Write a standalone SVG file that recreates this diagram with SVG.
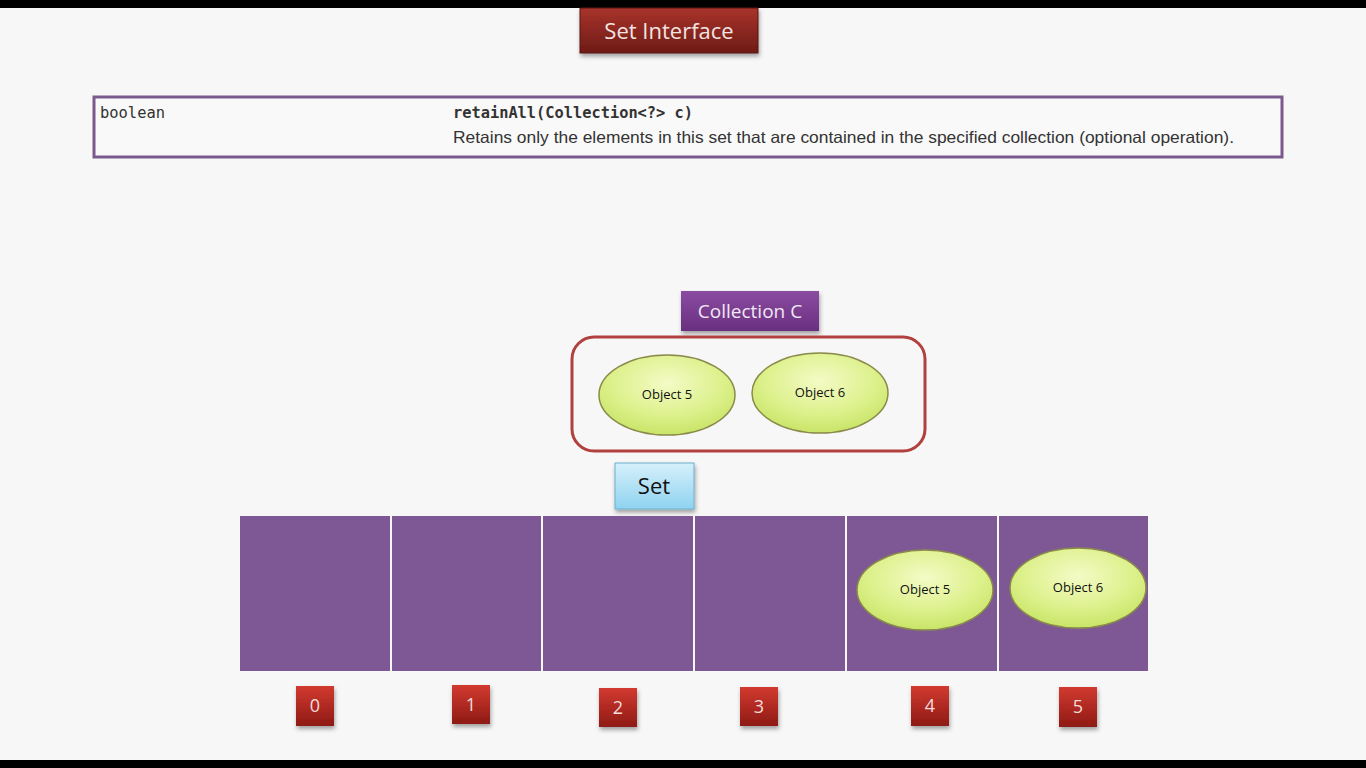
<svg xmlns="http://www.w3.org/2000/svg" width="1366" height="768" viewBox="0 0 1366 768">
<defs>
<linearGradient id="red" x1="0" y1="0" x2="0" y2="1"><stop offset="0" stop-color="#a8332b"/><stop offset="1" stop-color="#6e1c16"/></linearGradient>
<linearGradient id="idx" x1="0" y1="0" x2="0" y2="1"><stop offset="0" stop-color="#d23a30"/><stop offset="1" stop-color="#8e1a14"/></linearGradient>
<linearGradient id="purp" x1="0" y1="0" x2="0" y2="1"><stop offset="0" stop-color="#8a4ca0"/><stop offset="1" stop-color="#6a2f80"/></linearGradient>
<linearGradient id="blue" x1="0" y1="0" x2="0" y2="1"><stop offset="0" stop-color="#d6f0fb"/><stop offset="1" stop-color="#8fd3f0"/></linearGradient>
<radialGradient id="green" cx="0.5" cy="0.35" r="0.7"><stop offset="0" stop-color="#f4fbc6"/><stop offset="0.6" stop-color="#dcf08a"/><stop offset="1" stop-color="#c4e260"/></radialGradient>
<filter id="sh" x="-20%" y="-20%" width="140%" height="150%"><feDropShadow dx="1" dy="3" stdDeviation="2" flood-color="#000" flood-opacity="0.35"/></filter>
</defs>
<style>
.cell{fill:#7e5894}
.obj{fill:url(#green);stroke:#8a8a4a;stroke-width:1.5}
.ot{font-family:"Open Sans","DejaVu Sans",sans-serif;font-size:13px;fill:#111;text-anchor:middle}
.ix{fill:url(#idx);filter:url(#sh)}
.it{font-family:"Open Sans","DejaVu Sans",sans-serif;font-size:18px;fill:#f4dcdc;text-anchor:middle}
.mono{font-family:"DejaVu Sans Mono","Liberation Mono",monospace;font-size:15px;fill:#333}
</style>
<rect width="1366" height="768" fill="#f8f7f7"/>
<rect width="1366" height="8" fill="#000"/>
<rect y="760" width="1366" height="8" fill="#000"/>

<g id="title">
<rect x="580" y="8" width="178" height="45" fill="url(#red)" stroke="#5a1410" stroke-width="1" filter="url(#sh)"/>
<text x="669" y="39" font-family="Open Sans, DejaVu Sans, sans-serif" font-size="22" fill="#f3e4e0" text-anchor="middle">Set Interface</text>
</g>

<g id="doc">
<rect x="94" y="97" width="1188" height="60" fill="#f9f9f9" stroke="#7a5a8e" stroke-width="3"/>
<text x="100" y="118" class="mono" textLength="65" lengthAdjust="spacingAndGlyphs">boolean</text>
<text x="453" y="118" class="mono" font-weight="bold" fill="#3a4a5a" textLength="240" lengthAdjust="spacingAndGlyphs">retainAll(Collection&lt;?&gt; c)</text>
<text x="453" y="143" font-family="Liberation Sans, Arial, sans-serif" font-size="16.5" fill="#333" textLength="781" lengthAdjust="spacingAndGlyphs">Retains only the elements in this set that are contained in the specified collection (optional operation).</text>
</g>

<g id="collection-label">
<rect x="681" y="291" width="138" height="40" fill="url(#purp)" filter="url(#sh)"/>
<text x="750" y="318" font-family="Open Sans, DejaVu Sans, sans-serif" font-size="19" fill="#f0e8f4" text-anchor="middle">Collection C</text>
</g>

<g id="collection">
<rect x="572" y="337" width="353" height="114" rx="22" fill="none" stroke="#b0413e" stroke-width="3"/>
</g>
<g id="c-obj5">
<ellipse cx="667" cy="395" rx="68" ry="40" class="obj"/>
<text x="667" y="399" class="ot">Object 5</text>
</g>
<g id="c-obj6">
<ellipse cx="820" cy="393" rx="68" ry="40" class="obj"/>
<text x="820" y="397" class="ot">Object 6</text>
</g>

<g id="set-label">
<rect x="615" y="463" width="79" height="46" fill="url(#blue)" stroke="#6ab0cc" stroke-width="1" filter="url(#sh)"/>
<text x="654" y="494" font-family="Open Sans, DejaVu Sans, sans-serif" font-size="22" fill="#111" text-anchor="middle">Set</text>
</g>

<g id="set">
<rect x="240" y="516" width="150" height="155" class="cell"/>
<rect x="392" y="516" width="149" height="155" class="cell"/>
<rect x="543" y="516" width="150" height="155" class="cell"/>
<rect x="695" y="516" width="150" height="155" class="cell"/>
<rect x="847" y="516" width="150" height="155" class="cell"/>
<rect x="999" y="516" width="149" height="155" class="cell"/>
</g>
<g id="s-obj5">
<ellipse cx="925" cy="590" rx="68" ry="40" class="obj"/>
<text x="925" y="594" class="ot">Object 5</text>
</g>
<g id="s-obj6">
<ellipse cx="1078" cy="588" rx="68" ry="40" class="obj"/>
<text x="1078" y="592" class="ot">Object 6</text>
</g>

<g id="idx0"><rect x="296" y="686" width="38" height="40" class="ix"/><text x="315" y="712" class="it">0</text></g>
<g id="idx1"><rect x="452" y="685" width="38" height="39" class="ix"/><text x="471" y="711" class="it">1</text></g>
<g id="idx2"><rect x="599" y="688" width="38" height="39" class="ix"/><text x="618" y="714" class="it">2</text></g>
<g id="idx3"><rect x="740" y="687" width="38" height="39" class="ix"/><text x="759" y="713" class="it">3</text></g>
<g id="idx4"><rect x="911" y="686" width="38" height="40" class="ix"/><text x="930" y="712" class="it">4</text></g>
<g id="idx5"><rect x="1059" y="687" width="38" height="40" class="ix"/><text x="1078" y="713" class="it">5</text></g>
</svg>
